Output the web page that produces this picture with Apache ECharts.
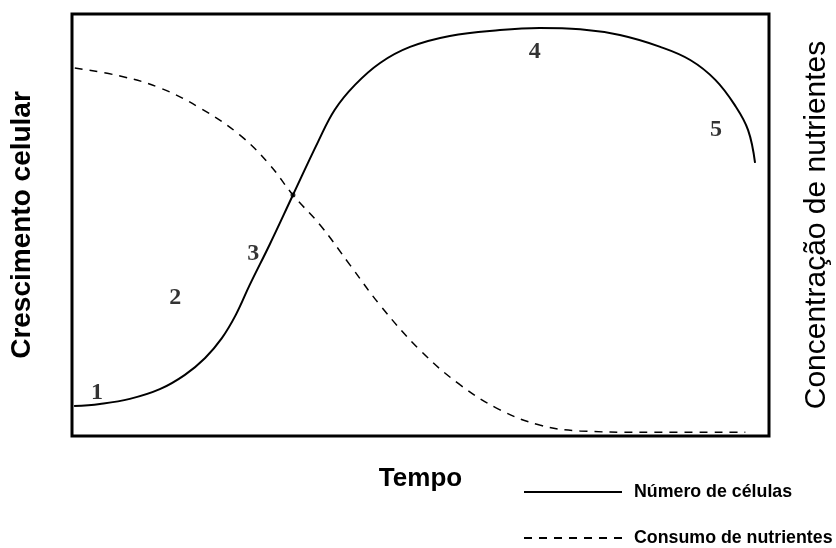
<!DOCTYPE html>
<html>
<head>
<meta charset="utf-8">
<script src="https://cdn.jsdelivr.net/npm/echarts@6/dist/echarts.min.js"></script>
<style>
  html, body { margin: 0; padding: 0; background: #fff; }
  #chart { width: 836px; height: 548px; }
</style>
</head>
<body>
<div id="chart"></div>
<script>
// tempo (0-100) e valores relativos (0-100)
const celulas = [
  [0.3, 7.1], [4.0, 7.6], [8.3, 8.8], [12.6, 11.1], [16.2, 14.5], [19.1, 18.5],
  [21.5, 23.2], [23.5, 28.7], [25.5, 35.8], [28.4, 45.5], [31.7, 57.1], [35.3, 69.7],
  [37.7, 77.3], [40.6, 83.2], [44.2, 88.4], [48.5, 92.2], [54.2, 94.8], [61.4, 96.2],
  [67.1, 96.7], [72.9, 96.4], [78.6, 95.0], [84.4, 92.2], [88.7, 89.1], [92.3, 84.4],
  [95.1, 78.4], [97.0, 72.5], [98.0, 64.7]
];
const nutrientes = [
  [0.4, 87.2], [6.9, 85.3], [12.6, 82.5], [18.4, 77.7], [24.1, 71.3], [28.4, 64.2],
  [31.7, 57.1], [35.6, 50.0], [39.9, 40.5], [44.2, 31.0], [49.9, 20.4], [55.7, 12.1],
  [61.4, 6.2], [67.1, 2.6], [72.9, 1.2], [81.5, 0.9], [96.6, 0.9]
];
const fases = ['1', '2', '3', '4', '5'];
const fasesPos = [[3.6, 10.2], [14.8, 32.7], [26.0, 43.1], [66.4, 91.0], [92.4, 72.5]];
const cruzamento = [[31.7, 57.1]];

const chart = echarts.init(document.getElementById('chart'));

const semEixo = {
  axisLine: { show: false }, axisTick: { show: false },
  axisLabel: { show: false }, splitLine: { show: false }
};

const legenda = (nome, topo) => ({
  left: 523, top: topo, padding: 0,
  itemWidth: 98, itemHeight: 14,
  itemStyle: { opacity: 0 },
  textStyle: {
    fontFamily: 'Liberation Sans, Arial, sans-serif',
    fontWeight: 'bold', fontSize: 17.8, color: '#000', padding: [0, 0, 0, 7]
  },
  data: [nome]
});

const option = {
  animation: false,
  backgroundColor: '#fff',
  grid: {
    left: 72, right: 67, top: 14, bottom: 112,
    outerBoundsMode: 'none',
    show: true, borderColor: '#000', borderWidth: 3
  },
  xAxis: Object.assign({
    type: 'value', min: 0, max: 100,
    name: 'Tempo', nameLocation: 'middle', nameGap: 30,
    nameTextStyle: {
      fontFamily: 'Liberation Sans, Arial, sans-serif',
      fontWeight: 'bold', fontSize: 26, color: '#000'
    }
  }, semEixo),
  yAxis: [
    Object.assign({
      type: 'value', min: 0, max: 100,
      name: 'Crescimento celular', nameLocation: 'middle', nameGap: 36, nameRotate: 90,
      nameTextStyle: {
        fontFamily: 'Liberation Sans, Arial, sans-serif',
        fontWeight: 'bold', fontSize: 28, color: '#000'
      }
    }, semEixo),
    Object.assign({
      type: 'value', min: 0, max: 100, position: 'right',
      name: 'Concentração de nutrientes', nameLocation: 'middle', nameGap: 33, nameRotate: 90,
      nameTextStyle: {
        fontFamily: 'Liberation Sans, Arial, sans-serif',
        fontWeight: 'normal', fontSize: 30, color: '#000'
      }
    }, semEixo)
  ],
  legend: [
    legenda('Número de células', 483),
    legenda('Consumo de nutrientes', 529)
  ],
  series: [
    {
      name: 'Número de células',
      type: 'line', smooth: 0.4, symbol: 'none',
      data: celulas,
      lineStyle: { color: '#000', width: 2 },
      itemStyle: { color: '#000' }
    },
    {
      name: 'Consumo de nutrientes',
      type: 'line', smooth: 0.4, symbol: 'none', yAxisIndex: 1,
      data: nutrientes,
      lineStyle: { color: '#000', width: 1.5, type: [8, 7] },
      itemStyle: { color: '#000' }
    },
    {
      type: 'scatter', symbolSize: 5, silent: true,
      data: cruzamento,
      itemStyle: { color: '#000' }
    },
    {
      type: 'scatter', symbolSize: 0, silent: true,
      data: fasesPos.map((p, i) => ({ value: p, name: fases[i] })),
      label: {
        show: true, position: 'inside', formatter: '{b}',
        fontFamily: 'Liberation Serif, Times New Roman, serif',
        fontWeight: 'bold', fontSize: 24, color: '#000'
      }
    }
  ]
};

chart.setOption(option);
</script>
</body>
</html>
